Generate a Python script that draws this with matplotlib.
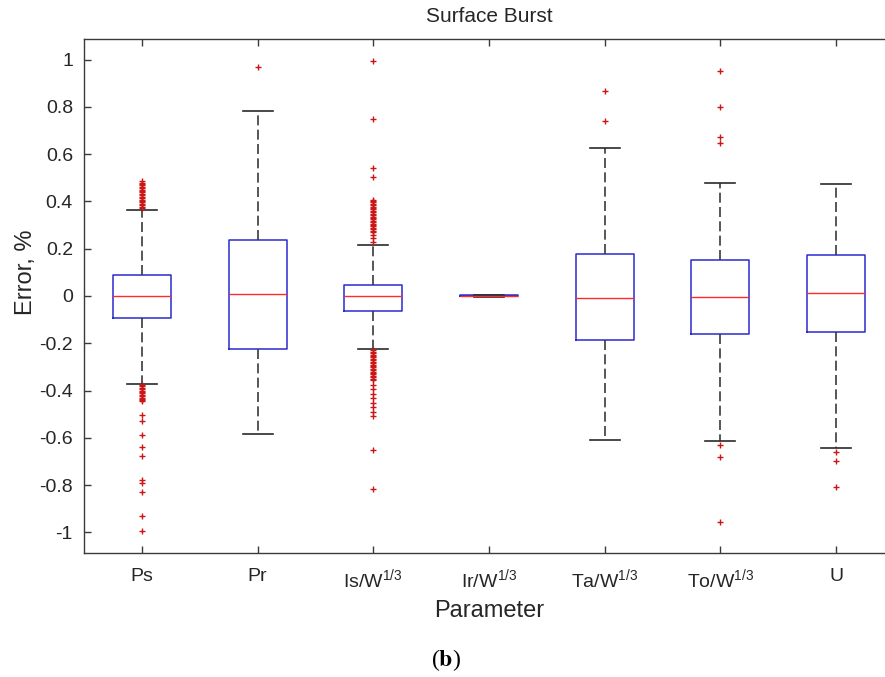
import matplotlib
matplotlib.use("Agg")
import matplotlib.pyplot as plt

plt.rcParams['font.family'] = ['Liberation Sans', 'DejaVu Sans']
plt.rcParams['axes.unicode_minus'] = False
plt.rcParams['mathtext.fontset'] = 'stix'

# categories and box statistics
labels = ['Ps', 'Pr', 'Is/W$^{\\mathregular{1/3}}$', 'Ir/W$^{\\mathregular{1/3}}$',
          'Ta/W$^{\\mathregular{1/3}}$', 'To/W$^{\\mathregular{1/3}}$', 'U']
medians = [0.001, 0.007, -0.002, 0.001, -0.008, -0.003, 0.012]
q1 = [-0.093, -0.224, -0.062, -0.002, -0.188, -0.160, -0.152]
q3 = [0.087, 0.235, 0.048, 0.003, 0.179, 0.154, 0.175]
whislo = [-0.371, -0.584, -0.224, -0.004, -0.608, -0.612, -0.641]
whishi = [0.364, 0.784, 0.214, 0.004, 0.626, 0.477, 0.474]

fliers_ps = [0.372, 0.378, 0.384, 0.390, 0.396, 0.402, 0.408, 0.414, 0.420, 0.426,
             0.432, 0.438, 0.444, 0.450, 0.456, 0.462, 0.468, 0.474, 0.480, 0.485,
             -0.376, -0.382, -0.388, -0.394, -0.400, -0.406, -0.412, -0.418, -0.424,
             -0.430, -0.436, -0.441, -0.446,
             -0.505, -0.528, -0.587, -0.638, -0.676, -0.777, -0.791, -0.828, -0.931, -0.993]
fliers_pr = [0.967]
fliers_is = [0.993, 0.750, 0.542, 0.502,
             0.408, 0.402, 0.396, 0.390, 0.384, 0.378, 0.372, 0.366, 0.360, 0.354,
             0.348, 0.342, 0.336, 0.330, 0.324, 0.318, 0.312, 0.306, 0.300, 0.294,
             0.288, 0.282, 0.276, 0.270, 0.260, 0.245, 0.230,
             -0.230, -0.236, -0.242, -0.248, -0.254, -0.260, -0.266, -0.272, -0.278,
             -0.284, -0.290, -0.296, -0.302, -0.308, -0.314, -0.320, -0.326, -0.332,
             -0.338, -0.344, -0.350, -0.354,
             -0.376, -0.393, -0.414, -0.432, -0.452, -0.470, -0.490, -0.507, -0.650, -0.817]
fliers_ir = []
fliers_ta = [0.866, 0.739]
fliers_to = [0.953, 0.800, 0.673, 0.647, -0.632, -0.683, -0.956]
fliers_u = [-0.658, -0.696, -0.808]
fliers = [fliers_ps, fliers_pr, fliers_is, fliers_ir, fliers_ta, fliers_to, fliers_u]

stats = []
for i in range(len(labels)):
    stats.append(dict(med=medians[i], q1=q1[i], q3=q3[i], whislo=whislo[i],
                      whishi=whishi[i], fliers=fliers[i]))

fig = plt.figure(figsize=(8.85, 6.77), dpi=100)
# axes runs past the right edge, the source image is cropped there
ax = fig.add_axes([84 / 885, 124 / 677, 810 / 885, 514 / 677])

pos = list(range(1, len(labels) + 1))
ax.bxp(stats, positions=pos, widths=0.5, capwidths=0.26,
       boxprops=dict(color='#2b2bd0', linewidth=1.1),
       medianprops=dict(color='#ff2a2a', linewidth=1.0),
       whiskerprops=dict(color='#3a3a3a', linewidth=1.2, linestyle=(0, (6, 2.6))),
       capprops=dict(color='#2a2a2a', linewidth=1.2),
       flierprops=dict(marker='+', markersize=4, markeredgecolor='#cc1515',
                       markeredgewidth=1.0, linestyle='none'))

ax.set_xlim(0.5, 7.5)
ax.set_ylim(-1.087, 1.087)
ax.set_xticks(pos)
ax.set_xticklabels(labels)
yt = [-1, -0.8, -0.6, -0.4, -0.2, 0, 0.2, 0.4, 0.6, 0.8, 1]
ax.set_yticks(yt)
ax.set_yticklabels(['%g' % v for v in yt])

for s in ['left', 'top', 'bottom']:
    ax.spines[s].set_color('#3a3a3a')
    ax.spines[s].set_linewidth(1.0)
ax.spines['right'].set_visible(False)

ax.tick_params(axis='x', direction='in', top=True, length=5, width=1,
               color='#3a3a3a', labelsize=14, labelcolor='#262626', pad=11)
ax.tick_params(axis='y', direction='in', length=5, width=1,
               color='#3a3a3a', labelsize=14, labelcolor='#262626', pad=8)

ax.set_title('Surface Burst', fontsize=15, color='#262626', pad=12)
ax.set_xlabel('Parameter', fontsize=17, color='#262626')
ax.xaxis.set_label_coords(0.5, -0.091)
ax.set_ylabel('Error, %', fontsize=17, color='#262626')
ax.yaxis.set_label_coords(-0.058, 0.547)

fig.text(446 / 885, 1 - 660 / 677, '($\\mathbf{b}$)', fontsize=17,
         family='Liberation Serif', ha='center', va='center')

fig.savefig('out.png', dpi=100)
